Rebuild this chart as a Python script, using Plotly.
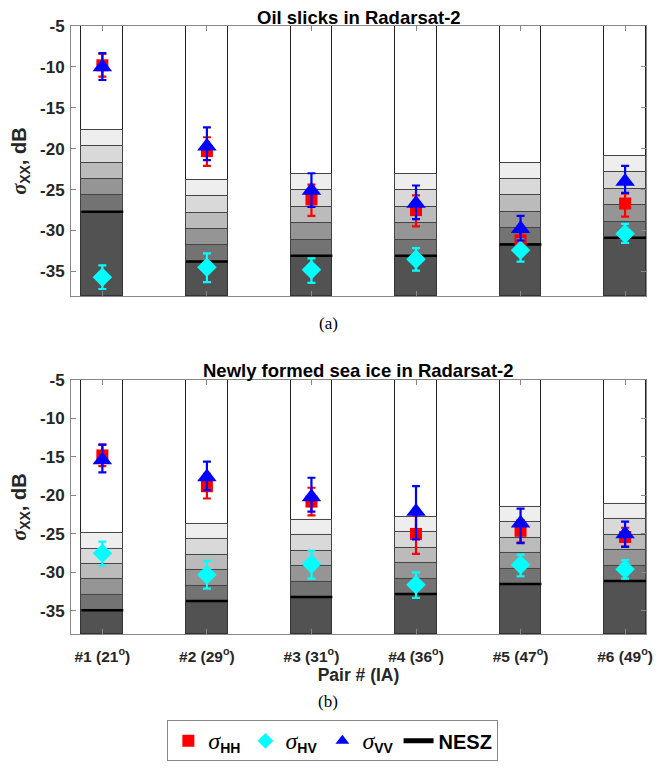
import plotly.graph_objects as go

# ---------------- data ----------------
pairs = [1, 2, 3, 4, 5, 6]
pair_labels = ["#1 (21<sup>o</sup>)", "#2 (29<sup>o</sup>)", "#3 (31<sup>o</sup>)",
               "#4 (36<sup>o</sup>)", "#5 (47<sup>o</sup>)", "#6 (49<sup>o</sup>)"]
y_ticks = [-35, -30, -25, -20, -15, -10, -5]
y_tick_text = ["-35", "-30", "-25", "-20", "-15", "-10", "-5"]
y_min, y_max = -38, -5
band_step = 2
n_bands = 5

# (a) Oil slicks
nesz_a = [-27.7, -33.8, -33.1, -33.1, -31.7, -30.9]
hh_a = [-9.8, -20.3, -26.2, -27.5, -31.2, -26.7]
hh_a_plus = [1.4, 1.7, 1.8, 1.8, 1.0, 1.2]
hh_a_minus = [1.4, 1.8, 2.0, 2.0, 1.0, 1.6]
hv_a = [-35.7, -34.5, -34.8, -33.5, -32.4, -30.4]
hv_a_plus = [1.45, 1.7, 1.4, 1.35, 1.3, 1.2]
hv_a_minus = [1.45, 1.8, 1.6, 1.4, 1.4, 1.1]
vv_a = [-10.0, -19.7, -25.1, -26.7, -29.8, -24.0]
vv_a_plus = [1.7, 2.3, 2.1, 2.2, 1.6, 1.9]
vv_a_minus = [1.6, 1.7, 2.0, 1.9, 1.4, 1.4]

# (b) Newly formed sea ice
nesz_b = [-34.9, -33.7, -33.2, -32.8, -31.5, -31.1]
hh_b = [-14.8, -18.8, -20.8, -25.0, -24.6, -25.4]
hh_b_plus = [1.4, 1.6, 1.8, 2.4, 1.4, 1.2]
hh_b_minus = [1.4, 1.6, 1.8, 2.6, 1.5, 1.2]
hv_b = [-27.5, -30.3, -28.9, -31.6, -29.0, -29.6]
hv_b_plus = [1.5, 1.8, 1.7, 1.6, 1.3, 1.2]
hv_b_minus = [1.6, 1.8, 1.9, 1.7, 1.5, 1.2]
vv_b = [-15.4, -17.6, -20.2, -22.1, -23.6, -25.0]
vv_b_plus = [2.0, 2.0, 2.5, 3.3, 1.9, 1.6]
vv_b_minus = [1.6, 1.7, 1.9, 3.6, 2.6, 1.7]

band_colors = ["#737373", "#959595", "#bbbbbb", "#d9d9d9", "#eeeeee"]
dark_color = "#525252"
bar_width = 0.4

SANS = "Liberation Sans, Arial, sans-serif"
SERIF = "Liberation Serif, Times New Roman, serif"
SIG = "<span style='font-family:Liberation Serif'><i>σ</i></span>"
LSIG = "<span style='font-family:Liberation Serif;font-size:24px'><i>σ</i></span>"

fig = go.Figure()


def add_panel(nesz, hh, hhp, hhm, hv, hvp, hvm, vv, vvp, vvm, xa, ya, legend):
    # white full-height bar
    fig.add_trace(go.Bar(x=pairs, y=[y_max - y_min] * len(pairs), base=y_min,
                         width=bar_width, marker=dict(color="white", line=dict(color="#222", width=1)),
                         xaxis=xa, yaxis=ya, showlegend=False, hoverinfo="skip"))
    # gray bands, lightest (highest) first
    for k in range(n_bands, 0, -1):
        tops = [n + band_step * k for n in nesz]
        fig.add_trace(go.Bar(x=pairs, y=[t - y_min for t in tops], base=y_min,
                             width=bar_width,
                             marker=dict(color=band_colors[k - 1], line=dict(color="#444", width=1)),
                             xaxis=xa, yaxis=ya, showlegend=False, hoverinfo="skip"))
    # dark part below NESZ
    fig.add_trace(go.Bar(x=pairs, y=[n - y_min for n in nesz], base=y_min,
                         width=bar_width, marker=dict(color=dark_color, line=dict(color="#333", width=1)),
                         xaxis=xa, yaxis=ya, showlegend=False, hoverinfo="skip"))
    # NESZ line segments
    lx, ly = [], []
    for p, n in zip(pairs, nesz):
        lx += [p - bar_width / 2, p + bar_width / 2, None]
        ly += [n, n, None]
    fig.add_trace(go.Scatter(x=lx, y=ly, mode="lines", line=dict(color="black", width=2.5),
                             name="<b>NESZ</b>", legendrank=4, showlegend=legend,
                             xaxis=xa, yaxis=ya))
    specs = [
        (hh, hhp, hhm, "red", "square", 12, LSIG + "<sub><b>HH</b></sub>", 1),
        (hv, hvp, hvm, "cyan", "diamond", 15, LSIG + "<sub><b>HV</b></sub>", 2),
        (vv, vvp, vvm, "blue", "triangle-up", 17, LSIG + "<sub><b>VV</b></sub>", 3),
    ]
    for vals, ep, em, col, sym, sz, nm, rk in specs:
        fig.add_trace(go.Scatter(
            x=pairs, y=vals, mode="markers", name=nm, legendrank=rk, showlegend=legend,
            marker=dict(color=col, symbol=sym, size=sz),
            error_y=dict(type="data", array=ep, arrayminus=em, color=col, thickness=2.2, width=4),
            xaxis=xa, yaxis=ya))


add_panel(nesz_a, hh_a, hh_a_plus, hh_a_minus, hv_a, hv_a_plus, hv_a_minus,
          vv_a, vv_a_plus, vv_a_minus, "x", "y", True)
add_panel(nesz_b, hh_b, hh_b_plus, hh_b_minus, hv_b, hv_b_plus, hv_b_minus,
          vv_b, vv_b_plus, vv_b_minus, "x2", "y2", False)

axis_common = dict(showline=True, linecolor="#888", linewidth=1, mirror="ticks",
                   ticks="inside", ticklen=5, tickcolor="#888", showgrid=False, zeroline=False)
ytickfont = dict(family=SANS, size=17, color="#262626", weight="bold")
xtickfont = dict(family=SANS, size=15.5, color="#262626", weight="bold")

yaxis_title = dict(text=SIG + "<sub>XX</sub>, dB",
                   font=dict(family=SANS, size=20, color="#262626", weight="bold"), standoff=10)

fig.update_layout(
    width=653, height=763,
    margin=dict(l=62, r=8, t=18, b=137),
    paper_bgcolor="white", plot_bgcolor="white",
    barmode="overlay", bargap=0,
    font=dict(family=SANS, color="#262626"),
    xaxis=dict(domain=[0, 1], anchor="y", range=[0.7, 6.2], tickvals=pairs,
               showticklabels=False, **axis_common),
    yaxis=dict(domain=[0.556, 1], anchor="x", range=[y_min, y_max], tickvals=y_ticks,
               ticktext=y_tick_text, tickfont=ytickfont, title=yaxis_title,
               ticklabelstandoff=2, **axis_common),
    xaxis2=dict(domain=[0, 1], anchor="y2", range=[0.7, 6.2], tickvals=pairs,
                ticktext=pair_labels, tickfont=xtickfont, ticklabelstandoff=8,
                title=dict(text="<b>Pair # (IA)</b>", font=dict(family=SANS, size=17.5, color="#262626"),
                           standoff=0),
                **axis_common),
    yaxis2=dict(domain=[0, 0.4178], anchor="x2", range=[y_min, y_max], tickvals=y_ticks,
                ticktext=y_tick_text, tickfont=ytickfont, title=yaxis_title,
                ticklabelstandoff=2, **axis_common),
    legend=dict(orientation="h", x=0.4554, xanchor="center", y=-0.142, yanchor="top",
                bordercolor="#888", borderwidth=1, bgcolor="white",
                font=dict(family=SANS, size=20, color="black"),
                traceorder="normal", itemwidth=30, itemsizing="constant"),
    annotations=[
        dict(text="<b>Oil slicks in Radarsat-2</b>", xref="paper", yref="paper", x=0.5, y=1,
             xanchor="center", yanchor="bottom", yshift=-4, showarrow=False,
             font=dict(family=SANS, size=18.5, color="black")),
        dict(text="<b>Newly formed sea ice in Radarsat-2</b>", xref="paper", yref="paper", x=0.5,
             y=0.4178, xanchor="center", yanchor="bottom", yshift=-3, showarrow=False,
             font=dict(family=SANS, size=18.5, color="black")),
        dict(text="(a)", xref="paper", yref="paper", x=0.4477, y=0.5115, xanchor="center",
             yanchor="middle", showarrow=False, font=dict(family=SERIF, size=17, color="black")),
        dict(text="(b)", xref="paper", yref="paper", x=0.4477, y=-0.1118, xanchor="center",
             yanchor="middle", showarrow=False, font=dict(family=SERIF, size=17, color="black")),
    ],
)

fig.write_html("out.html")
